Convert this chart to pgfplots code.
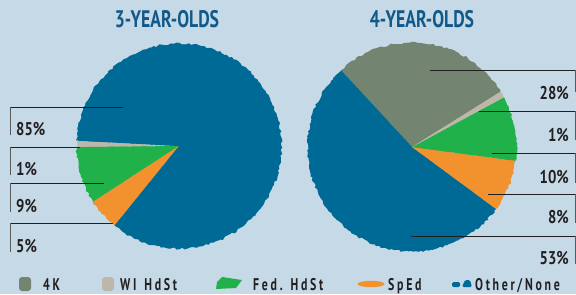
\documentclass[border=0pt]{standalone}
\usepackage{pgfplots}
\pgfplotsset{compat=1.18}
\usepackage{pgfplotstable}
\usetikzlibrary{decorations.pathmorphing}
\usepackage{fontspec}
\setmainfont{PT Sans}
\newfontfamily\titlef{PT Sans}[FakeStretch=0.74]
\newfontfamily\labf{PT Sans}[FakeStretch=0.80]
\newfontfamily\legf{PT Sans}[FakeStretch=0.70, LetterSpace=16]

\definecolor{bg}{HTML}{C6D9E6}
\definecolor{otherblue}{HTML}{006A96}
\definecolor{kgreen}{HTML}{738570}
\definecolor{wigray}{HTML}{BDB6AA}
\definecolor{fgreen}{HTML}{21B14B}
\definecolor{sporange}{HTML}{F2922E}
\definecolor{titleblue}{HTML}{10598A}
\definecolor{textdark}{HTML}{231F20}

% 3-year-olds (counter-clockwise from 177 deg)
\pgfplotstableread{
cat pct col
WI 1 wigray
Fed 9 fgreen
SpEd 5 sporange
Other 85 otherblue
}\tabthree
% 4-year-olds (counter-clockwise from 32 deg)
\pgfplotstableread{
cat pct col
4K 28 kgreen
Other 53 otherblue
SpEd 8 sporange
Fed 10 fgreen
WI 1 wigray
}\tabfour

% #1 table, #2 cx, #3 cy, #4 start angle, #5 radius (bp number), #6 extra style
\newcommand\drawpie[6]{%
  \pgfplotstablegetrowsof{#1}%
  \pgfmathtruncatemacro\nrows{\pgfplotsretval-1}%
  \xdef\curang{#4}%
  \foreach \i in {0,...,\nrows}{%
    \pgfplotstablegetelem{\i}{pct}\of{#1}\let\pct\pgfplotsretval
    \pgfplotstablegetelem{\i}{col}\of{#1}\let\col\pgfplotsretval
    \pgfmathsetmacro\endang{\curang+3.6*\pct}%
    \fill[\col, #6] (axis cs:#2,#3) -- ++(\curang:#5bp)
      arc[start angle=\curang, end angle=\endang, radius=#5bp] -- cycle;
    \xdef\curang{\endang}%
  }%
}

\begin{document}
\begin{tikzpicture}
\pgfmathsetseed{7}
\begin{axis}[
  x=1bp, y=1bp, xmin=0, xmax=576, ymin=0, ymax=294,
  hide axis, clip=false, anchor=origin, at={(0,0)},
]
\pgfplotsextra{
  \fill[bg] (axis cs:0,0) rectangle (axis cs:576,294);
  \drawpie{\tabthree}{179}{148}{177}{102.5}{decorate, decoration={random steps, segment length=2.5bp, amplitude=1.1bp}}
  \drawpie{\tabthree}{179}{148}{177}{101.5}{}
  \drawpie{\tabfour}{412}{147}{32}{104.5}{decorate, decoration={random steps, segment length=2.5bp, amplitude=1.1bp}}
  \drawpie{\tabfour}{412}{147}{32}{103.5}{}
}
% titles
\node[anchor=base, inner sep=0, text=titleblue, font=\titlef\bfseries\fontsize{24}{24}\selectfont] at (axis cs:167,267) {3-YEAR-OLDS};
\node[anchor=base, inner sep=0, text=titleblue, font=\titlef\bfseries\fontsize{24}{24}\selectfont] at (axis cs:422,267) {4-YEAR-OLDS};

% left leader lines
\draw[textdark, line width=0.8pt] (axis cs:10,187) -- (axis cs:123,187);
\draw[textdark, line width=0.8pt] (axis cs:10,147) -- (axis cs:80,147);
\draw[textdark, line width=0.8pt] (axis cs:10,111) -- (axis cs:104,111);
\draw[textdark, line width=0.8pt] (axis cs:10,71) -- (axis cs:113,71);
\draw[black!65, line width=0.8pt] (axis cs:10,187) -- (axis cs:10,159);
\draw[black!65, line width=0.8pt] (axis cs:10,147) -- (axis cs:10,119);
\draw[black!65, line width=0.8pt] (axis cs:10,111) -- (axis cs:10,82);
\draw[black!65, line width=0.8pt] (axis cs:10,71) -- (axis cs:10,42);
% right leader lines
\draw[textdark, line width=0.8pt] (axis cs:430,224) -- (axis cs:575,224);
\draw[textdark, line width=0.8pt] (axis cs:479,183) -- (axis cs:575,183);
\draw[textdark, line width=0.8pt] (axis cs:492,141) -- (axis cs:575,141);
\draw[textdark, line width=0.8pt] (axis cs:488,100) -- (axis cs:575,100);
\draw[textdark, line width=0.8pt] (axis cs:411,58) -- (axis cs:575,58);
\draw[black!65, line width=0.8pt] (axis cs:575,224) -- (axis cs:575,202);
\draw[black!65, line width=0.8pt] (axis cs:575,183) -- (axis cs:575,154);
\draw[black!65, line width=0.8pt] (axis cs:575,141) -- (axis cs:575,111);
\draw[black!65, line width=0.8pt] (axis cs:575,100) -- (axis cs:575,71);
\draw[black!65, line width=0.8pt] (axis cs:575,58) -- (axis cs:575,30);

% labels
\tikzset{lab/.style={inner sep=0, text=textdark, font=\labf\bfseries\fontsize{18.5}{18.5}\selectfont}}
\node[lab, anchor=base west] at (axis cs:16,159) {85\%};
\node[lab, anchor=base west] at (axis cs:16,119) {1\%};
\node[lab, anchor=base west] at (axis cs:16,82) {9\%};
\node[lab, anchor=base west] at (axis cs:16,42) {5\%};
\node[lab, anchor=base east] at (axis cs:569,195) {28\%};
\node[lab, anchor=base east] at (axis cs:569,153) {1\%};
\node[lab, anchor=base east] at (axis cs:569,111) {10\%};
\node[lab, anchor=base east] at (axis cs:569,71) {8\%};
\node[lab, anchor=base east] at (axis cs:569,30) {53\%};

% legend
\tikzset{leg/.style={inner sep=0, anchor=base west, text=textdark, font=\legf\bfseries\fontsize{17}{17}\selectfont}}
\fill[kgreen, rounded corners=3pt] (axis cs:19,3) rectangle (axis cs:31,17);
\node[leg] at (axis cs:43,4) {4K};
\fill[wigray, rounded corners=3pt] (axis cs:102,3) rectangle (axis cs:114,17);
\node[leg] at (axis cs:120,4) {WI\hspace{8pt}HdSt};
\fill[fgreen] (axis cs:216,5) -- (axis cs:236,6) -- (axis cs:242,14) -- (axis cs:222,17) -- (axis cs:217,12) -- cycle;
\node[leg] at (axis cs:253,4) {Fed.\hspace{8pt}HdSt};
\fill[sporange] (axis cs:371,10) ellipse [x radius=13.5bp, y radius=3.2bp];
\node[leg] at (axis cs:388,4) {SpEd};
\fill[otherblue, rounded corners=1.5pt] (axis cs:452,7) rectangle (axis cs:460,12);
\fill[otherblue, rounded corners=1.5pt] (axis cs:462,7) -- (axis cs:472,7) -- (axis cs:470,14) -- (axis cs:465,14) -- cycle;
\node[leg] at (axis cs:475,4) {Other/None};
\end{axis}
\end{tikzpicture}
\end{document}
